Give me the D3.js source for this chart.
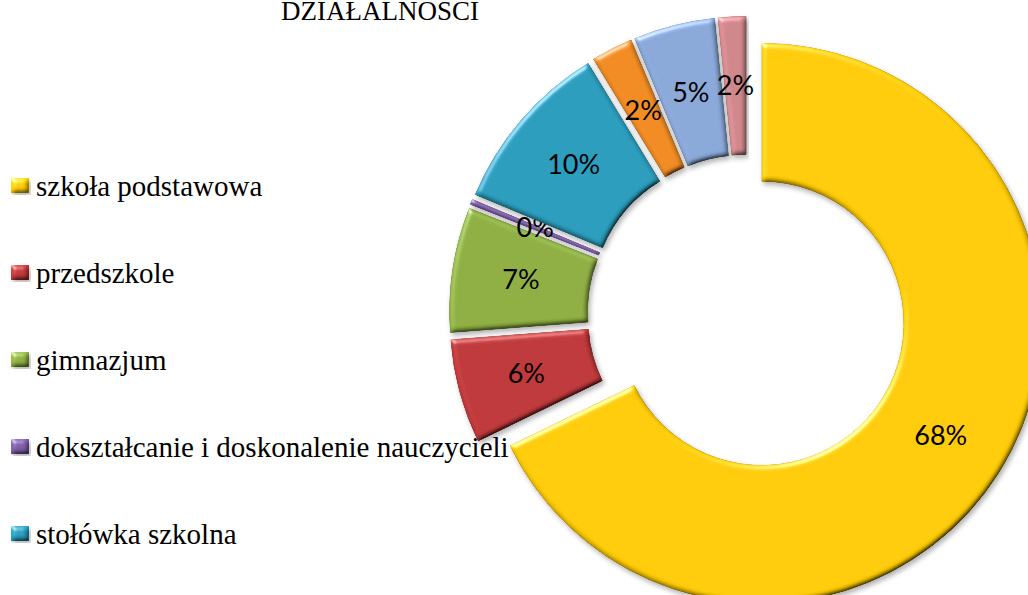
<!DOCTYPE html>
<html>
<head>
<meta charset="utf-8">
<script src="https://cdn.jsdelivr.net/npm/d3@7"></script>
<style>
  body { margin: 0; background: #fff; overflow: hidden; }
</style>
</head>
<body>
<div id="chart"></div>
<script>
// shares of spending by activity (percent), clockwise from 12 o'clock
var categories = ["szkoła podstawowa", "przedszkole", "gimnazjum",
    "dokształcanie i doskonalenie nauczycieli", "stołówka szkolna",
    "dowożenie uczniów do szkół", "oddziały przedszkolne w szkołach podstawowych",
    "pozostała działalność"];
var values = [67.8, 6.0, 7.2, 0.3, 10.0, 2.4, 4.7, 1.6];
var colors = ["#ffcc00", "#c0393b", "#8fb043", "#7e5fa8", "#2b9dbd", "#f28c22", "#8aa9da", "#d0878b"];
var title = "DZIAŁALNOŚCI";

var width = 1028,
    height = 595,
    cx = 747, cy = 314,
    outer = 280, inner = 142,
    explode = 17.6;

var svg = d3.select("#chart").append("svg")
    .attr("width", width)
    .attr("height", height);

// bevel + shadow
var defs = svg.append("defs");
var f = defs.append("filter").attr("id", "bevel")
    .attr("x", "-10%").attr("y", "-10%").attr("width", "120%").attr("height", "120%");
f.append("feGaussianBlur").attr("in", "SourceAlpha").attr("stdDeviation", 2.5).attr("result", "blur");
// diffuse shading: flat = sin(45deg)
f.append("feDiffuseLighting").attr("in", "blur").attr("surfaceScale", 3)
    .attr("diffuseConstant", 1).attr("lighting-color", "#ffffff").attr("result", "diff")
    .append("feDistantLight").attr("azimuth", 235).attr("elevation", 45);
f.append("feComposite").attr("in", "SourceGraphic").attr("in2", "diff")
    .attr("operator", "arithmetic").attr("k1", 1.414).attr("k2", 0).attr("k3", 0).attr("k4", 0)
    .attr("result", "shaded");
f.append("feSpecularLighting").attr("in", "blur").attr("surfaceScale", 3)
    .attr("specularConstant", 0.9).attr("specularExponent", 30)
    .attr("lighting-color", "#ffffff").attr("result", "spec")
    .append("feDistantLight").attr("azimuth", 235).attr("elevation", 30);
f.append("feComposite").attr("in", "spec").attr("in2", "SourceAlpha")
    .attr("operator", "in").attr("result", "specIn");
f.append("feComposite").attr("in", "shaded").attr("in2", "specIn")
    .attr("operator", "arithmetic").attr("k1", 0).attr("k2", 1).attr("k3", 0.45).attr("k4", 0)
    .attr("result", "lit");
f.append("feComposite").attr("in", "lit").attr("in2", "SourceAlpha")
    .attr("operator", "in").attr("result", "litIn");
f.append("feGaussianBlur").attr("in", "SourceAlpha").attr("stdDeviation", 2.5).attr("result", "sb");
f.append("feOffset").attr("in", "sb").attr("dx", 2).attr("dy", 3).attr("result", "so");
f.append("feFlood").attr("flood-color", "#000").attr("flood-opacity", 0.3).attr("result", "sc");
f.append("feComposite").attr("in", "sc").attr("in2", "so").attr("operator", "in").attr("result", "shadow");
var m = f.append("feMerge");
m.append("feMergeNode").attr("in", "shadow");
m.append("feMergeNode").attr("in", "litIn");

var color = d3.scaleOrdinal().domain(categories).range(colors);

var pie = d3.pie().sort(null).value(function (d) { return d.value; });
var data = categories.map(function (c, i) { return { label: c, value: values[i] }; });
var arcs = pie(data);
var total = d3.sum(values);

var arc = d3.arc().innerRadius(inner).outerRadius(outer);
var labelArc = d3.arc().innerRadius((inner + outer) / 2).outerRadius((inner + outer) / 2);

function shift(d) {
    var a = (d.startAngle + d.endAngle) / 2;
    return [explode * Math.sin(a), -explode * Math.cos(a)];
}

var g = svg.append("g").attr("transform", "translate(" + cx + "," + cy + ")");

var slice = g.selectAll(".arc")
    .data(arcs)
    .enter().append("g")
    .attr("class", "arc")
    .attr("transform", function (d) { return "translate(" + shift(d) + ")"; });

slice.append("path")
    .attr("d", arc)
    .style("fill", function (d) { return color(d.data.label); })
    .style("stroke", function (d) { return d3.color(color(d.data.label)).darker(0.5); })
    .style("stroke-width", 0.8)
    .attr("filter", "url(#bevel)");

slice.append("text")
    .attr("transform", function (d) { return "translate(" + labelArc.centroid(d) + ")"; })
    .attr("dy", ".35em")
    .attr("text-anchor", "middle")
    .style("font-family", "Lato, 'Open Sans', sans-serif")
    .style("font-size", "27px")
    .style("fill", "#000")
    .text(function (d) { return Math.round(d.data.value / total * 100) + "%"; });

// title (top of it runs off the page)
svg.append("text")
    .attr("x", 380).attr("y", 20)
    .attr("text-anchor", "middle")
    .style("font-family", "'Liberation Serif', serif")
    .style("font-size", "27px")
    .text(title);

// legend
var legend = svg.selectAll(".legend")
    .data(categories)
    .enter().append("g")
    .attr("class", "legend")
    .attr("transform", function (d, i) { return "translate(11," + (196 + i * 87) + ")"; });

legend.append("rect")
    .attr("x", 0).attr("y", -18)
    .attr("width", 18).attr("height", 15)
    .style("fill", function (d) { return color(d); })
    .attr("filter", "url(#bevel)");

legend.append("text")
    .attr("x", 25).attr("y", 0)
    .style("font-family", "'Liberation Serif', serif")
    .style("font-size", "29px")
    .text(function (d) { return d; });
</script>
</body>
</html>
